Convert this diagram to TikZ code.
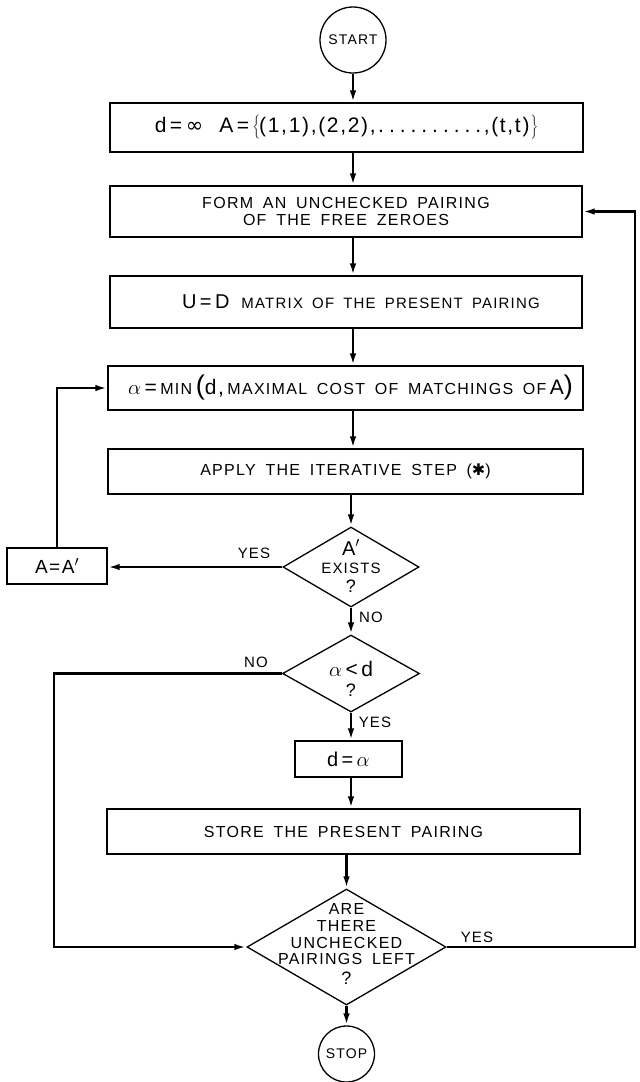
\documentclass[tikz,border=0pt]{standalone}
\usepackage{fontspec}
\setmainfont{Liberation Sans}[LetterSpace=8,WordSpace=1.7]
\newfontfamily\symfont{DejaVu Sans}
\usetikzlibrary{arrows.meta,shapes.geometric}
\newcommand\fsz[1]{\fontsize{#1}{#1}\selectfont}
\newcommand\mydots{\hbox to 108pt{\leaders\hbox to 10.8pt{\hss.\hss}\hfill}}
\begin{document}
\begin{tikzpicture}[x=1pt,y=-1pt,
  box/.style={draw,line width=1.3pt,inner sep=0pt,align=center},
  dec/.style={draw,diamond,line width=1.3pt,inner sep=0pt},
  term/.style={draw,circle,line width=1.3pt,inner sep=0pt},
  conn/.style={line width=2.5pt,-{Latex[length=12pt,width=6.5pt]}},
  lab/.style={inner sep=0pt,font=\fsz{15}},
  txt/.style={inner sep=0pt,align=center}]
\useasboundingbox (0,0) rectangle (640,1082);

% terminals
\node[term,minimum size=66pt,font=\fsz{14}] (start) at (353,40) {START};
\node[term,minimum size=56pt,font=\fsz{14}] (stop) at (346.5,1054) {STOP};

% boxes
\node[box,minimum width=473pt,minimum height=49pt] (b1) at (346.5,127.5)
  {\fsz{21}d\,=\,{\symfont ∞}\hspace{16pt}A\,=\,$\left\{\vcenter{\hbox{\rule{0pt}{24pt}}}\right.$\kern-2pt(1,1),(2,2),\mydots,(t,t)$\left.\vcenter{\hbox{\rule{0pt}{24pt}}}\right\}$};
\node[box,minimum width=472pt,minimum height=51pt,font={\fontsize{16}{17}\selectfont}] (b2) at (346,211.5)
  {FORM AN UNCHECKED PAIRING\\OF THE FREE ZEROES};
\node[box,minimum width=472pt,minimum height=52pt] (b3) at (346,302)
  {\hspace*{30pt}{\fsz{20}U\,=\,D}\hspace{12pt}{\fsz{15}MATRIX OF THE PRESENT PAIRING}};
\node[box,minimum width=475pt,minimum height=44pt] (b4) at (345.5,388)
  {\hspace*{10pt}\fsz{21}$\alpha$\,=\,{\fsz{16}MIN}\,{\fsz{27}(}d,\,{\fsz{16}MAXIMAL COST OF MATCHINGS OF}\,A{\fsz{27})}};
\node[box,minimum width=475pt,minimum height=45pt] (b5) at (345.5,471.5)
  {\fsz{16}APPLY THE ITERATIVE STEP ({\symfont ✱})};
\node[box,minimum width=100pt,minimum height=36pt] (aa) at (57,566)
  {\fsz{19}A=A$'$};
\node[box,minimum width=107pt,minimum height=36pt] (b6) at (348.5,759)
  {\fsz{20}d\,=\,$\alpha$};
\node[box,minimum width=473pt,minimum height=45pt] (b7) at (343.5,831.5)
  {\fsz{16}STORE THE PRESENT PAIRING};

% decisions
\node[dec,minimum width=136pt,minimum height=80pt] (d1) at (351,567) {};
\node[txt,font={\fontsize{15}{18.5}\selectfont}] (d1t) at (351,566)
  {{\fsz{20}A$'$}\\EXISTS\\{\fsz{18}?}};
\node[dec,minimum width=137pt,minimum height=77pt] (d2) at (351,673.5) {};
\node[txt,font={\fontsize{18}{20}\selectfont}] (d2t) at (351,679)
  {{\fsz{21}$\alpha$\,<\,d}\\?};
\node[dec,minimum width=199pt,minimum height=116pt] (d3) at (346.5,947) {};
\node[txt,font={\fontsize{16}{16.7}\selectfont}] (d3t) at (346.5,944)
  {ARE\\THERE\\UNCHECKED\\PAIRINGS LEFT\\[3pt]{\fsz{18}?}};

% labels
\node[lab] (ly1) at (254,553) {YES};
\node[lab] (ln1) at (371,617) {NO};
\node[lab] (ln2) at (256,662) {NO};
\node[lab] (ly2) at (375,722) {YES};
\node[lab] (ly3) at (477,937) {YES};

\coordinate (lx) at (54,947);
\coordinate (rx) at (635,947);

% connectors
\draw[conn] (start.south) -- (start.south |- b1.north);
\draw[conn] (b1.south -| start.south) -- (b2.north -| start.south);
\draw[conn] (b2.south -| start.south) -- (b3.north -| start.south);
\draw[conn] (b3.south -| start.south) -- (b4.north -| start.south);
\draw[conn] (b4.south -| start.south) -- (b5.north -| start.south);
\draw[conn] (b5.south -| d1.north) -- (d1.north);
\draw[conn] (d1.south) -- (d2.north);
\draw[conn] (d2.south) -- (d2.south |- b6.north);
\draw[conn] (b6.south -| d2.south) -- (b7.north -| d2.south);
\draw[conn] (b7.south -| d3.north) -- (d3.north);
\draw[conn] (d3.south) -- (stop.north);
\draw[conn] (d1.west) -- (d1.west -| aa.east);
\draw[conn] (aa.north) |- (b4.west);
\draw[conn] (d2.west) -| (lx) -- (d3.west);
\draw[conn] (d3.east) -- (rx) |- (b2.east);
\end{tikzpicture}
\end{document}
